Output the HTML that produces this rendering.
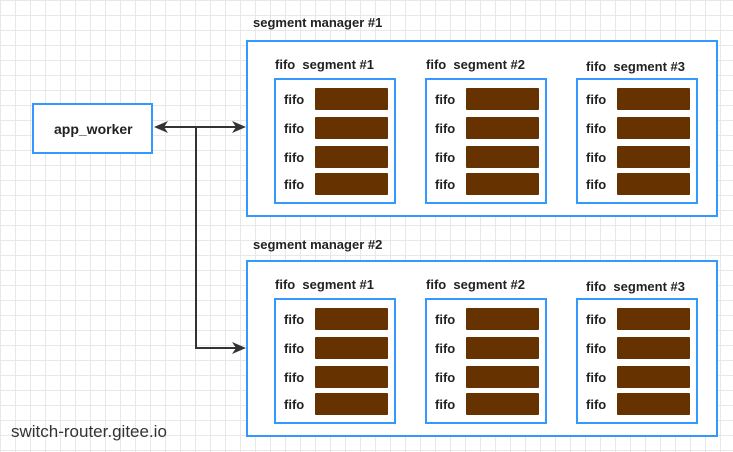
<!DOCTYPE html>
<html><head><style>
body{margin:0;width:733px;height:452px;position:relative;overflow:hidden;font-family:"Liberation Sans",sans-serif;background:#fff;
background-image:linear-gradient(#e8e8e8 1px,transparent 1px),linear-gradient(90deg,#e8e8e8 1px,transparent 1px);background-size:15px 15px;background-position:0 0;}
.b{position:absolute;border:2px solid #3399ff;background:#fff;box-sizing:border-box}
.t{position:absolute;font-weight:bold;font-size:13px;color:#222;white-space:nowrap}
.f{position:absolute;background:#663300;border-radius:1px;width:73px;height:22px}
</style></head><body>
<svg style="position:absolute;left:0;top:0" width="733" height="452">
<g stroke="#333" stroke-width="2" fill="none">
<path d="M162 127 H236"/><path d="M196 127 V348 H236"/>
</g>
<polygon points="154,127 168,121 164,127 168,133" fill="#333"/>
<polygon points="246,127 232,121 236,127 232,133" fill="#333"/>
<polygon points="246,348 232,342 236,348 232,354" fill="#333"/>
</svg>
<div class="b" style="left:32px;top:103px;width:121px;height:51px"></div>
<div class="t" style="left:54px;top:121px;font-size:14px">app_worker</div>
<div id="c"></div>
<div style="position:absolute;left:11px;top:422px;font-size:17px;color:#333">switch-router.gitee.io</div>
<script>
var h='';
[[40,22],[260,244]].forEach(function(m){
var y=m[0];
h+='<div class="t" style="left:253px;top:'+(m[1]-7)+'px">segment manager #'+(y==40?1:2)+'</div>';
h+='<div class="b" style="left:246px;top:'+y+'px;width:472px;height:177px"></div>';
[274,425,576].forEach(function(x,i){
h+='<div class="t" style="left:'+(x+(i==2?10:1))+'px;top:'+(y+(i==2?19:17))+'px">fifo&nbsp; segment #'+(i+1)+'</div>';
h+='<div class="b" style="left:'+x+'px;top:'+(y+38)+'px;width:122px;height:126px"></div>';
[48,77,106,133].forEach(function(d){
h+='<div class="t" style="left:'+(x+10)+'px;top:'+(y+d+4)+'px">fifo</div>';
h+='<div class="f" style="left:'+(x+41)+'px;top:'+(y+d)+'px"></div>';
});
});
});
document.getElementById('c').innerHTML=h;
</script>
</body></html>
